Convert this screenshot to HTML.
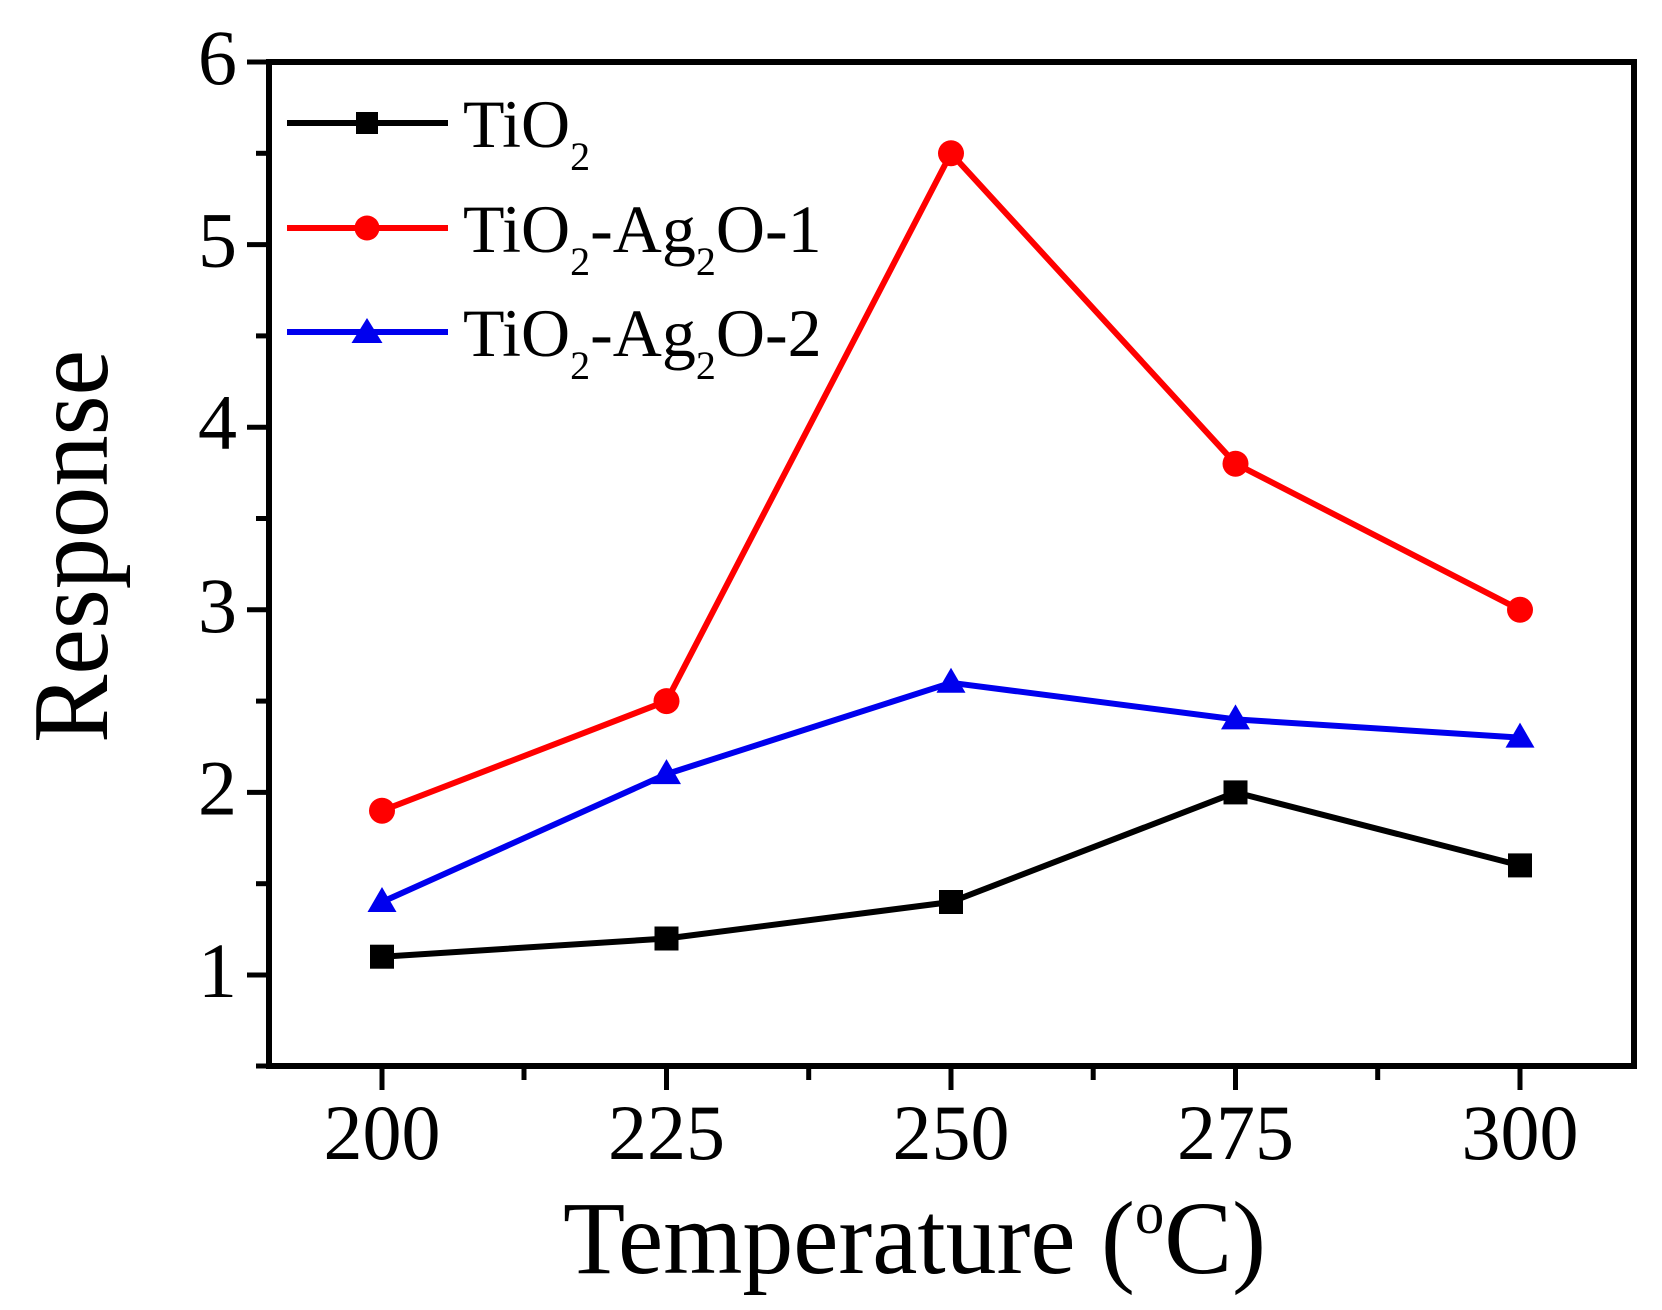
<!DOCTYPE html>
<html>
<head>
<meta charset="utf-8">
<style>
html,body{margin:0;padding:0;background:#fff;}
svg{display:block;}
text{font-family:"Liberation Serif","Times New Roman",serif;fill:#000;}
</style>
</head>
<body>
<svg width="1662" height="1310" viewBox="0 0 1662 1310" xmlns="http://www.w3.org/2000/svg">
<rect width="1662" height="1310" fill="#fff"/>

<!-- frame -->
<rect x="269" y="62" width="1365" height="1004" fill="none" stroke="#000" stroke-width="6"/>

<!-- y ticks major -->
<g stroke="#000" stroke-width="5">
<line x1="247" y1="62" x2="269" y2="62"/>
<line x1="247" y1="244.6" x2="269" y2="244.6"/>
<line x1="247" y1="427.2" x2="269" y2="427.2"/>
<line x1="247" y1="609.8" x2="269" y2="609.8"/>
<line x1="247" y1="792.4" x2="269" y2="792.4"/>
<line x1="247" y1="975" x2="269" y2="975"/>
<!-- minor -->
<line x1="256" y1="153.3" x2="269" y2="153.3"/>
<line x1="256" y1="335.9" x2="269" y2="335.9"/>
<line x1="256" y1="518.5" x2="269" y2="518.5"/>
<line x1="256" y1="701.1" x2="269" y2="701.1"/>
<line x1="256" y1="883.7" x2="269" y2="883.7"/>
<line x1="256" y1="1066" x2="269" y2="1066"/>
<!-- x ticks major -->
<line x1="382" y1="1066" x2="382" y2="1090"/>
<line x1="666.5" y1="1066" x2="666.5" y2="1090"/>
<line x1="951" y1="1066" x2="951" y2="1090"/>
<line x1="1235.5" y1="1066" x2="1235.5" y2="1090"/>
<line x1="1520" y1="1066" x2="1520" y2="1090"/>
<!-- minor -->
<line x1="524" y1="1066" x2="524" y2="1080"/>
<line x1="808.7" y1="1066" x2="808.7" y2="1080"/>
<line x1="1093.2" y1="1066" x2="1093.2" y2="1080"/>
<line x1="1377.7" y1="1066" x2="1377.7" y2="1080"/>
</g>

<!-- y tick labels -->
<g font-size="78" text-anchor="end">
<text x="237" y="84">6</text>
<text x="237" y="266.6">5</text>
<text x="237" y="449.2">4</text>
<text x="237" y="631.8">3</text>
<text x="237" y="814.4">2</text>
<text x="237" y="997">1</text>
</g>

<!-- x tick labels -->
<g font-size="78" text-anchor="middle">
<text x="382" y="1159">200</text>
<text x="666.5" y="1159">225</text>
<text x="951" y="1159">250</text>
<text x="1235.5" y="1159">275</text>
<text x="1520" y="1159">300</text>
</g>

<!-- axis titles -->
<text x="914.5" y="1273" font-size="104" text-anchor="middle" textLength="703" lengthAdjust="spacingAndGlyphs">Temperature (<tspan font-size="60" dy="-40">o</tspan><tspan dy="40">C)</tspan></text>
<text transform="translate(107,546.5) rotate(-90)" x="0" y="0" font-size="108" text-anchor="middle" textLength="393" lengthAdjust="spacingAndGlyphs">Response</text>

<!-- series: TiO2 -->
<polyline points="382,956.7 666.5,938.5 951,902 1235.5,792.4 1520,865.4" fill="none" stroke="#000" stroke-width="6" stroke-linejoin="round"/>
<g fill="#000">
<rect x="370" y="944.7" width="24" height="24"/>
<rect x="654.5" y="926.5" width="24" height="24"/>
<rect x="939" y="890" width="24" height="24"/>
<rect x="1223.5" y="780.4" width="24" height="24"/>
<rect x="1508" y="853.4" width="24" height="24"/>
</g>

<!-- series: TiO2-Ag2O-1 -->
<polyline points="382,810.7 666.5,701.1 951,153.3 1235.5,463.7 1520,609.8" fill="none" stroke="#ff0000" stroke-width="6" stroke-linejoin="round"/>
<g fill="#ff0000">
<circle cx="382" cy="810.7" r="13"/>
<circle cx="666.5" cy="701.1" r="13"/>
<circle cx="951" cy="153.3" r="13"/>
<circle cx="1235.5" cy="463.7" r="13"/>
<circle cx="1520" cy="609.8" r="13"/>
</g>

<!-- series: TiO2-Ag2O-2 -->
<polyline points="382,902 666.5,774.1 951,682.8 1235.5,719.4 1520,737.6" fill="none" stroke="#0000ee" stroke-width="6" stroke-linejoin="round"/>
<g fill="#0000ee">
<polygon points="382,887 396.5,912 367.5,912"/>
<polygon points="666.5,759.1 681,784.1 652,784.1"/>
<polygon points="951,667.8 965.5,692.8 936.5,692.8"/>
<polygon points="1235.5,704.4 1250,729.4 1221,729.4"/>
<polygon points="1520,722.6 1534.5,747.6 1505.5,747.6"/>
</g>

<!-- legend -->
<line x1="287" y1="123" x2="448" y2="123" stroke="#000" stroke-width="6"/>
<rect x="356" y="112" width="22" height="22" fill="#000"/>
<line x1="287" y1="228" x2="448" y2="228" stroke="#ff0000" stroke-width="6"/>
<circle cx="367" cy="228" r="12.5" fill="#ff0000"/>
<line x1="287" y1="332" x2="448" y2="332" stroke="#0000ee" stroke-width="6"/>
<polygon points="367,318 382.5,343 351.5,343" fill="#0000ee"/>

<g font-size="68">
<text x="463" y="147">TiO<tspan font-size="40" dy="23">2</tspan></text>
<text x="463" y="252">TiO<tspan font-size="40" dy="23">2</tspan><tspan dy="-23">-Ag</tspan><tspan font-size="40" dy="23">2</tspan><tspan dy="-23">O-1</tspan></text>
<text x="463" y="356">TiO<tspan font-size="40" dy="23">2</tspan><tspan dy="-23">-Ag</tspan><tspan font-size="40" dy="23">2</tspan><tspan dy="-23">O-2</tspan></text>
</g>
</svg>
</body>
</html>
